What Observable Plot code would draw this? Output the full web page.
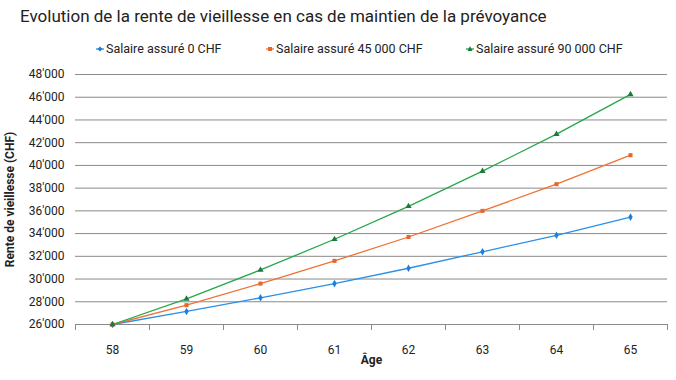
<!DOCTYPE html>
<html><head><meta charset="utf-8">
<script src="https://cdn.jsdelivr.net/npm/d3@7"></script>
<script src="https://cdn.jsdelivr.net/npm/@observablehq/plot@0.6"></script>
<style>
body{margin:0;background:#fff;font-family:Roboto,"Liberation Sans",sans-serif;width:676px;height:380px;position:relative;overflow:hidden}
#title{position:absolute;left:20px;top:6px;font-size:17px;color:#222;white-space:nowrap}
#legend{position:absolute;left:0;top:41px;width:676px;font-size:12.5px;color:#222}
.item{position:absolute;white-space:nowrap;display:flex;align-items:center}
#chart{position:absolute;left:0;top:62px}
</style></head><body>
<div id="title"></div>
<div id="legend"></div>
<div id="chart"></div>
<script>
const ages = [58, 59, 60, 61, 62, 63, 64, 65];
const seriesNames = ["Salaire assuré 0 CHF", "Salaire assuré 45 000 CHF", "Salaire assuré 90 000 CHF"];
const rente0 = [26000, 27150, 28350, 29600, 30950, 32400, 33850, 35450];
const rente45 = [26000, 27700, 29600, 31600, 33700, 36000, 38350, 40900];
const rente90 = [26000, 28250, 30800, 33500, 36400, 39500, 42750, 46250];
const yTicks = [26000, 28000, 30000, 32000, 34000, 36000, 38000, 40000, 42000, 44000, 46000, 48000];
const titleText = "Evolution de la rente de vieillesse en cas de maintien de la prévoyance";
const xLabel = "Âge";
const yLabel = "Rente de vieillesse (CHF)";

const colors = ["#2b8fe8", "#f07233", "#24a84a"];
const markerColors = ["#1f7fd6", "#e8662a", "#1c7a3a"];
const symbols = ["diamond", "square", "triangle"];
const legendX = [95, 265, 465];

document.getElementById("title").textContent = titleText;

const allSeries = [rente0, rente45, rente90];
const data = [];
allSeries.forEach((vals, i) => vals.forEach((v, j) => data.push({age: ages[j], value: v, series: seriesNames[i]})));

const legend = document.getElementById("legend");
seriesNames.forEach((name, i) => {
  const d = document.createElement("div");
  d.className = "item";
  d.style.left = legendX[i] + "px";
  const sym = i === 0 ? '<path d="M4,-2.5L6.5,0L4,2.5L1.5,0Z"/>' : i === 1 ? '<rect x="2" y="-2" width="4" height="4"/>' : '<path d="M4,-3L6.5,2L1.5,2Z"/>';
  d.innerHTML = `<svg width="10" height="10" viewBox="0 -5 8 10" style="margin-right:1px"><line x1="0" x2="8" y1="0" y2="0" stroke="${colors[i]}" stroke-width="1.3"/><g fill="${markerColors[i]}">${sym}</g></svg>${name}`;
  legend.appendChild(d);
});

const boundaries = [...ages.map(a => a - 0.5), ages[ages.length - 1] + 0.5];
const fmt = d => d3.format(",")(d).replace(/,/g, "'");

const chart = Plot.plot({
  width: 676,
  height: 318,
  marginLeft: 75,
  marginRight: 9,
  marginTop: 12,
  marginBottom: 56,
  style: {fontFamily: "Roboto, 'Liberation Sans', sans-serif", fontSize: "12px", color: "#222"},
  x: {domain: [ages[0] - 0.5, ages[ages.length - 1] + 0.5]},
  y: {domain: [yTicks[0], yTicks[yTicks.length - 1]]},
  color: {domain: seriesNames, range: colors},
  marks: [
    Plot.ruleY(yTicks, {stroke: "#8a8a8a", strokeWidth: 1}),
    Plot.axisY({ticks: yTicks, tickSize: 0, tickPadding: 11, tickFormat: fmt, label: null, fontSize: 12}),
    Plot.axisX({ticks: boundaries, tickSize: 6, tickFormat: () => "", label: null, stroke: "#8a8a8a"}),
    Plot.axisX({ticks: ages, tickSize: 0, tickPadding: 21, tickFormat: d => String(d), label: null, fontSize: 12}),
    Plot.text([xLabel], {frameAnchor: "bottom", dy: 39, fontWeight: "bold", fontSize: 12}),
    Plot.text([yLabel], {frameAnchor: "left", textAnchor: "middle", dx: -65, rotate: -90, fontWeight: "bold", fontSize: 12}),
    Plot.line(data, {x: "age", y: "value", stroke: "series", strokeWidth: 1.3}),
    ...seriesNames.map((name, i) => Plot.dot(data.filter(d => d.series === name), {x: "age", y: "value", symbol: () => symbols[i], fill: markerColors[i], r: 2.3}))
  ]
});
document.getElementById("chart").appendChild(chart);
</script>
</body></html>
